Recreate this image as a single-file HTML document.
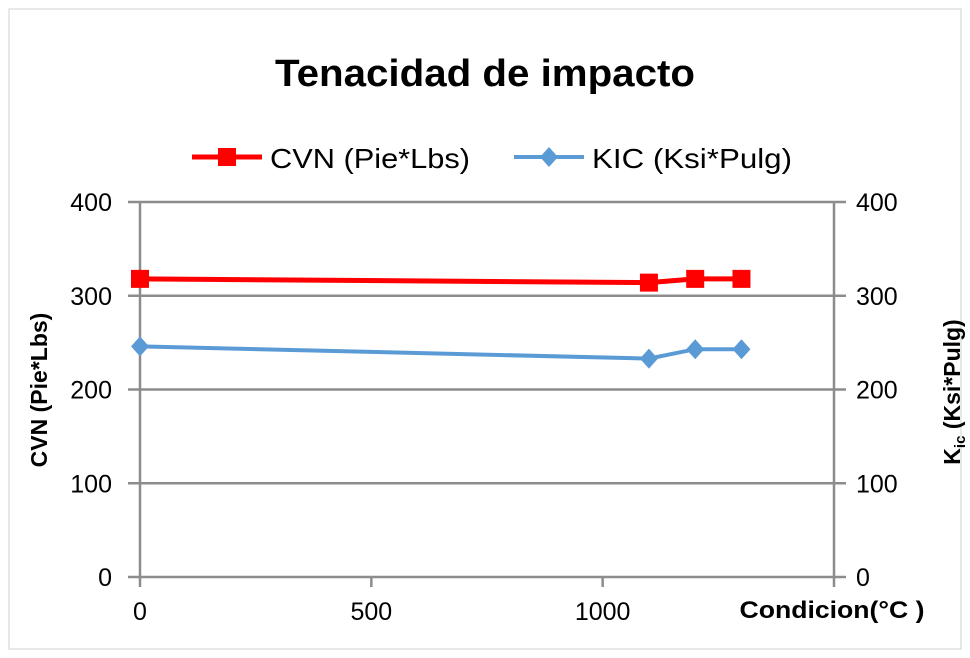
<!DOCTYPE html>
<html><head><meta charset="utf-8"><style>
body{margin:0;background:#fff;}
svg{display:block;font-family:"Liberation Sans",sans-serif;}
</style></head><body>
<svg width="970" height="658">
<rect x="9" y="9" width="952" height="640" fill="#fff" stroke="#d0d0d0"/>
<text x="485" y="86" text-anchor="middle" font-size="38" font-weight="bold" fill="#000" textLength="420" lengthAdjust="spacingAndGlyphs">Tenacidad de impacto</text>
<g>
<g>
<line x1="192" y1="157" x2="262" y2="157" stroke="#f00" stroke-width="5"/>
<rect x="218" y="148" width="18" height="18" fill="#f00"/>
<text x="270" y="168" font-size="28" fill="#000" textLength="200" lengthAdjust="spacingAndGlyphs">CVN (Pie*Lbs)</text></g>
<g>
<line x1="514" y1="157" x2="584" y2="157" stroke="#5b9bd5" stroke-width="4"/>
<polygon points="549,147 558,157 549,167 540,157" fill="#5b9bd5"/>
<text x="592" y="168" font-size="28" fill="#000" textLength="200" lengthAdjust="spacingAndGlyphs">KIC (Ksi*Pulg)</text></g>
</g>
<g id="grid"></g><g id="series"></g>
<text transform="translate(47,390) rotate(-90)" text-anchor="middle" font-size="23" font-weight="bold">CVN (Pie*Lbs)</text>
<text transform="translate(960,392) rotate(-90)" text-anchor="middle" font-size="23" font-weight="bold">K<tspan font-size="15" dy="5">ic</tspan><tspan dy="-5"> (Ksi*Pulg)</tspan></text>
<text x="832" y="618" text-anchor="middle" font-size="24" font-weight="bold" textLength="185" lengthAdjust="spacingAndGlyphs">Condicion(°C )</text>
</svg>
<script>
const xValues=[0,1100,1200,1300];
const cvnValues=[318,314,318,318];
const kicValues=[246,233,243,243];
const yTicks=[0,100,200,300,400];
const xTicks=[0,500,1000];
const NS='http://www.w3.org/2000/svg';
function X(v){return 140+v*(834-140)/1500;}
function Y(v){return 577-v*(577-202)/400;}
function mk(t,a,p){const e=document.createElementNS(NS,t);for(const k in a)e.setAttribute(k,a[k]);p.appendChild(e);return e;}
const g=document.getElementById('grid'),s=document.getElementById('series');
yTicks.forEach(t=>{
 const l=mk('line',{x1:128,x2:846,y1:Y(t),y2:Y(t),stroke:'#8c8c8c','stroke-width':2.5},g);
 
 
 const a=mk('text',{x:112,y:Y(t)+9,'text-anchor':'end','font-size':25},g);a.textContent=t;
 
 
 const b=mk('text',{x:856,y:Y(t)+9,'font-size':25},g);b.textContent=t;
 
 
});
mk('line',{x1:X(0),x2:X(0),y1:Y(400),y2:Y(0)+10,stroke:'#8c8c8c','stroke-width':2.5},g);
mk('line',{x1:X(1500),x2:X(1500),y1:Y(400),y2:Y(0)+10,stroke:'#8c8c8c','stroke-width':2.5},g);
[500,1000].forEach(t=>mk('line',{x1:X(t),x2:X(t),y1:Y(0),y2:Y(0)+10,stroke:'#8c8c8c','stroke-width':2.5},g));
xTicks.forEach(t=>{const e=mk('text',{x:X(t),y:620,'text-anchor':'middle','font-size':25},g);e.textContent=t;
 
 });
const cp=mk('polyline',{points:xValues.map((x,i)=>X(x)+','+Y(cvnValues[i])).join(' '),fill:'none',stroke:'#f00','stroke-width':5},s);


const kp=mk('polyline',{points:xValues.map((x,i)=>X(x)+','+Y(kicValues[i])).join(' '),fill:'none',stroke:'#5b9bd5','stroke-width':4},s);


xValues.forEach((x,i)=>{
 const r=mk('rect',{x:X(x)-9,y:Y(cvnValues[i])-9,width:18,height:18,fill:'#f00'},s);
 
 
 const cx=X(x),cy=Y(kicValues[i]);
 const d=mk('polygon',{points:`${cx},${cy-10} ${cx+9},${cy} ${cx},${cy+10} ${cx-9},${cy}`,fill:'#5b9bd5'},s);
 
 
});
</script>
</body></html>
